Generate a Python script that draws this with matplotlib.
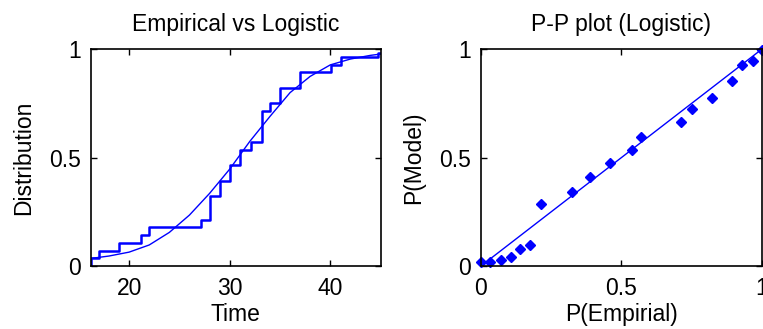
import numpy as np
import matplotlib
matplotlib.use('Agg')
import matplotlib.pyplot as plt
from matplotlib import font_manager

installed = {f.name for f in font_manager.fontManager.ttflist}
if 'Liberation Sans Narrow' in installed:
    fam, fs = 'Liberation Sans Narrow', 19
else:
    fam, fs = 'Liberation Sans', 16.5
plt.rcParams['font.family'] = [fam, 'DejaVu Sans']

# empirical CDF (step)
step_times = [16.2, 17.05, 19.0, 21.2, 22.0, 27.15, 28.0, 29.0, 30.07, 31.0,
              32.1, 33.2, 34.05, 35.04, 37.03, 40.1, 41.1, 44.7]
step_levels = [0.036, 0.071, 0.107, 0.143, 0.179, 0.214, 0.321, 0.393, 0.464, 0.536,
               0.571, 0.714, 0.75, 0.821, 0.893, 0.929, 0.964, 0.985]

# fitted logistic curve
curve_t = [16.2, 18, 20, 22, 24, 26, 28, 30, 32, 34, 36, 38, 40, 42, 44, 45]
curve_F = [0.035, 0.046, 0.064, 0.097, 0.155, 0.235, 0.335, 0.447, 0.575, 0.69,
           0.80, 0.875, 0.928, 0.955, 0.972, 0.978]

# P-P plot points
p_emp = [0.0, 0.032, 0.07, 0.107, 0.139, 0.176, 0.214, 0.323, 0.39, 0.46,
         0.539, 0.57, 0.711, 0.753, 0.824, 0.893, 0.931, 0.968, 1.0]
p_mod = [0.02, 0.02, 0.028, 0.043, 0.077, 0.096, 0.286, 0.343, 0.41, 0.474,
         0.533, 0.595, 0.664, 0.723, 0.773, 0.855, 0.927, 0.946, 0.997]
diag = [0, 1]

blue = '#0000ff'

fig = plt.figure(figsize=(7.63, 3.29), dpi=100)

ax1 = fig.add_axes([0.1191, 0.1915, 0.3797, 0.6587])
xs = [step_times[0]] + step_times + [45]
ys = [0] + step_levels + [step_levels[-1]]
ax1.step(xs, ys, where='post', color=blue, lw=1.8)
ax1.plot(curve_t, curve_F, color=blue, lw=1.0)
ax1.set_xlim(16.2, 45)
ax1.set_ylim(0, 1)
ax1.set_xticks([20, 30, 40])
ax1.set_yticks([0, 0.5, 1])
ax1.set_yticklabels(['0', '0.5', '1'])
ax1.set_title('Empirical vs Logistic', fontsize=fs, pad=13)
ax1.set_xlabel('Time', fontsize=fs, labelpad=2)
ax1.set_ylabel('Distribution', fontsize=fs, labelpad=10)

ax2 = fig.add_axes([0.6304, 0.1915, 0.3679, 0.6587])
ax2.plot(diag, diag, color=blue, lw=1.0)
ax2.plot(p_emp, p_mod, 'D', color=blue, ms=5, clip_on=False)
ax2.set_xlim(0, 1)
ax2.set_ylim(0, 1)
ax2.set_xticks([0, 0.5, 1])
ax2.set_xticklabels(['0', '0.5', '1'])
ax2.set_yticks([0, 0.5, 1])
ax2.set_yticklabels(['0', '0.5', '1'])
ax2.set_title('P-P plot (Logistic)', fontsize=fs, pad=13)
ax2.set_xlabel('P(Empirial)', fontsize=fs, labelpad=2)
ax2.set_ylabel('P(Model)', fontsize=fs, labelpad=10)

for ax in (ax1, ax2):
    ax.tick_params(direction='in', length=4, width=1, top=True, right=True,
                   labelsize=fs)
    ax.tick_params(axis='x', pad=8)
    ax.tick_params(axis='y', pad=7)
    for sp in ax.spines.values():
        sp.set_linewidth(1.2)

fig.savefig('out.png', dpi=100)
